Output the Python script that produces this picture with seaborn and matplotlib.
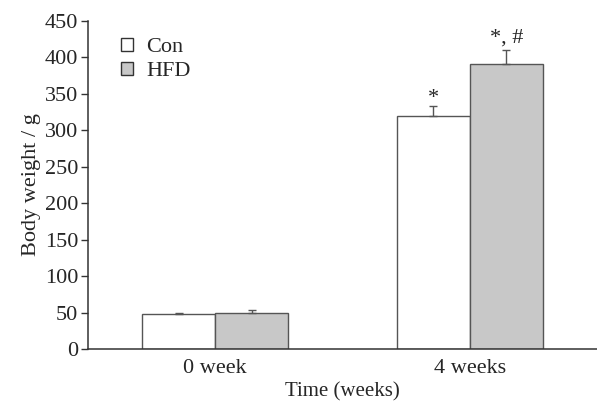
import numpy as np
import pandas as pd
import matplotlib
matplotlib.use("Agg")
import matplotlib.pyplot as plt
import seaborn as sns

time_labels = ["0 week", "4 weeks"]
groups = ["Con", "HFD"]
con_weight = [48, 319]
hfd_weight = [50, 391]
con_err = [2, 15]
hfd_err = [3, 19]
# significance mark text and its gap above the error cap
marks = {("Con", "4 weeks"): ("*", -4), ("HFD", "4 weeks"): ("*, #", 3)}

df = pd.DataFrame({
    "Time": time_labels * 2,
    "Group": ["Con"] * 2 + ["HFD"] * 2,
    "Weight": con_weight + hfd_weight,
    "Err": con_err + hfd_err,
})

sns.set_style("ticks")
plt.rcParams["font.family"] = ["Liberation Serif", "DejaVu Serif"]
plt.rcParams["axes.linewidth"] = 1.1

fs = 16
fig = plt.figure(figsize=(5.97, 4.03), dpi=100)
ax = fig.add_axes([0.1474, 0.134, 0.8526, 0.814])

edge = "#555555"
sns.barplot(data=df, x="Time", y="Weight", hue="Group", hue_order=groups,
            order=time_labels, palette=["white", "#c8c8c8"], width=0.575,
            edgecolor=edge, linewidth=1.0, errorbar=None, ax=ax, legend=False)

# error bars (upper only) and significance marks
for patch_group, g in zip(ax.containers, groups):
    sub = df[df["Group"] == g].set_index("Time").loc[time_labels]
    for bar, (t, row) in zip(patch_group, sub.iterrows()):
        xc = bar.get_x() + bar.get_width() / 2
        ax.errorbar(xc, row["Weight"], yerr=[[0], [row["Err"]]], fmt="none",
                    ecolor=edge, elinewidth=1.0, capsize=3, capthick=1.0)
        if (g, t) in marks:
            txt, gap = marks[(g, t)]
            ax.text(xc, row["Weight"] + row["Err"] + gap, txt,
                    ha="center", va="bottom", fontsize=fs)

ax.set_xlim(-0.5, 1.5)
ax.set_ylim(0, 450)
ax.set_yticks(np.arange(0, 451, 50))
ax.set_ylabel("Body weight / g", fontsize=fs, labelpad=3)
ax.set_xlabel("Time (weeks)", fontsize=15)
ax.xaxis.set_label_coords(0.5, -0.1)
ax.tick_params(axis="y", labelsize=fs, length=5, width=1.0, color="#333333", pad=2)
ax.tick_params(axis="x", labelsize=fs, length=0, pad=7)
sns.despine(ax=ax)
for s in ["left", "bottom"]:
    ax.spines[s].set_color("#333333")

handles = [plt.Rectangle((0, 0), 1, 1, facecolor=c, edgecolor="#333333", linewidth=1.0)
           for c in ["white", "#c8c8c8"]]
ax.legend(handles, groups, loc="upper left", bbox_to_anchor=(0.025, 1.01), frameon=False,
          fontsize=fs, handlelength=0.55, handleheight=0.55, handletextpad=0.6,
          labelspacing=0.2)

fig.savefig("out.png", dpi=100)
